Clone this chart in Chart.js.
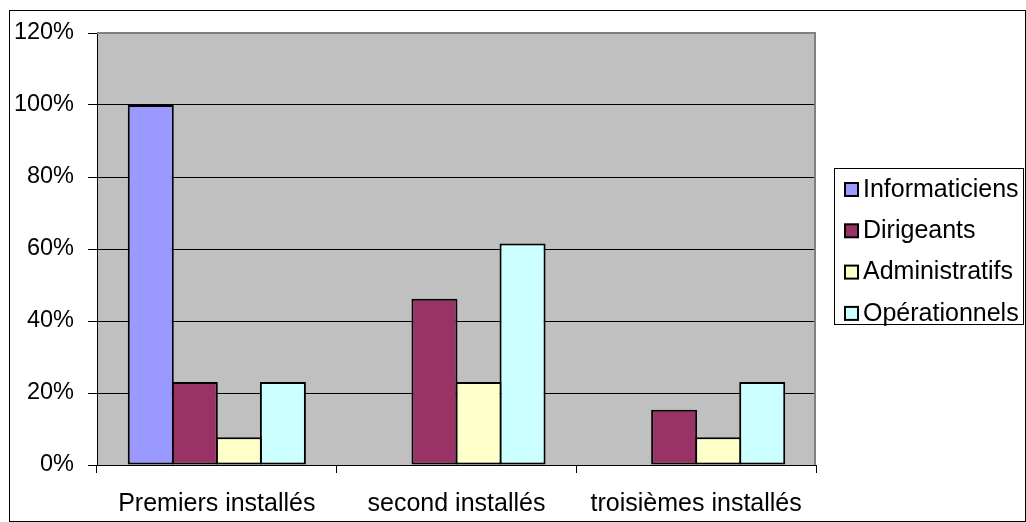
<!DOCTYPE html>
<html>
<head>
<meta charset="utf-8">
<script src="https://cdn.jsdelivr.net/npm/chart.js@4.4.0/dist/chart.umd.min.js"></script>
<style>
  html, body { margin: 0; padding: 0; background: #ffffff; }
  canvas { display: block; }
</style>
</head>
<body>
<canvas id="chart" width="1026" height="522"></canvas>
<script>
// Categories and series values (percent)
const categories = ['Premiers installés', 'second installés', 'troisièmes installés'];
const seriesNames = ['Informaticiens', 'Dirigeants', 'Administratifs', 'Opérationnels'];
const informaticiens = [100, 0, 0];
const dirigeants = [23.08, 46.15, 15.38];
const administratifs = [7.69, 23.08, 7.69];
const operationnels = [23.08, 61.54, 23.08];
const yTickValues = [0, 20, 40, 60, 80, 100, 120];

const seriesColors = ['#9999FF', '#993366', '#FFFFCC', '#CCFFFF'];
const FONT = '"Liberation Sans", Arial, sans-serif';

// Gray plot background and white page
const plotBackground = {
  id: 'plotBackground',
  beforeDraw(chart) {
    const { ctx, chartArea: a } = chart;
    ctx.save();
    ctx.fillStyle = '#ffffff';
    ctx.fillRect(0, 0, chart.width, chart.height);
    ctx.fillStyle = '#C0C0C0';
    ctx.fillRect(a.left, a.top, a.right - a.left, a.bottom - a.top);
    ctx.restore();
  }
};

// Plot frame, outer border and boxed legend
const frameAndLegend = {
  id: 'frameAndLegend',
  afterDraw(chart) {
    const { ctx, chartArea: a } = chart;
    ctx.save();
    // gray frame on the top and right of the plot area
    ctx.strokeStyle = '#808080';
    ctx.lineWidth = 2;
    ctx.beginPath();
    ctx.moveTo(a.left, a.top);
    ctx.lineTo(a.right - 1, a.top);
    ctx.lineTo(a.right - 1, a.bottom);
    ctx.stroke();

    // outer border of the chart
    ctx.strokeStyle = '#000000';
    ctx.lineWidth = 1;
    ctx.strokeRect(9.5, 10.5, 1016, 511);

    // legend box
    const box = { left: 834.5, top: 168.5, width: 189, height: 156 };
    ctx.strokeRect(box.left, box.top, box.width, box.height);

    ctx.font = '25px ' + FONT;
    ctx.textBaseline = 'middle';
    ctx.textAlign = 'left';
    chart.data.datasets.forEach((ds, i) => {
      const cy = 189 + i * 41.3;
      ctx.fillStyle = ds.backgroundColor;
      ctx.fillRect(845, cy - 6, 13, 13);
      ctx.strokeStyle = '#000000';
      ctx.lineWidth = 2;
      ctx.strokeRect(845, cy - 6, 13, 13);
      ctx.fillStyle = '#000000';
      ctx.fillText(ds.label, 863, cy + 1);
    });
    ctx.restore();
  }
};

const seriesData = [informaticiens, dirigeants, administratifs, operationnels];

new Chart(document.getElementById('chart'), {
  type: 'bar',
  data: {
    labels: categories,
    datasets: seriesNames.map((name, i) => ({
      label: name,
      data: seriesData[i],
      backgroundColor: seriesColors[i],
      borderColor: '#000000',
      borderWidth: 2,
      borderSkipped: false,
      categoryPercentage: 0.735,
      barPercentage: 1.045
    }))
  },
  options: {
    responsive: false,
    animation: false,
    events: [],
    layout: { padding: { top: 33, right: 210, left: 0, bottom: 0 } },
    plugins: {
      legend: { display: false },
      tooltip: { enabled: false },
      title: { display: false }
    },
    scales: {
      x: {
        grid: {
          offset: true,
          drawOnChartArea: false,
          color: '#000000',
          lineWidth: 1,
          tickLength: 8
        },
        border: { color: '#000000', width: 1 },
        ticks: {
          color: '#000000',
          padding: 16,
          maxRotation: 0,
          autoSkip: false,
          font: { family: FONT, size: 25 }
        },
        afterFit(scale) { scale.height = 57; }
      },
      y: {
        min: 0,
        max: 120,
        afterBuildTicks(scale) {
          scale.ticks = yTickValues.map(v => ({ value: v }));
        },
        grid: {
          color: '#000000',
          lineWidth: 1,
          tickLength: 9
        },
        border: { color: '#000000', width: 1 },
        ticks: {
          color: '#000000',
          padding: 14,
          font: { family: FONT, size: 23.5 },
          callback: v => v + '%'
        },
        afterFit(scale) { scale.width = 97; }
      }
    }
  },
  plugins: [plotBackground, frameAndLegend]
});
</script>
</body>
</html>
